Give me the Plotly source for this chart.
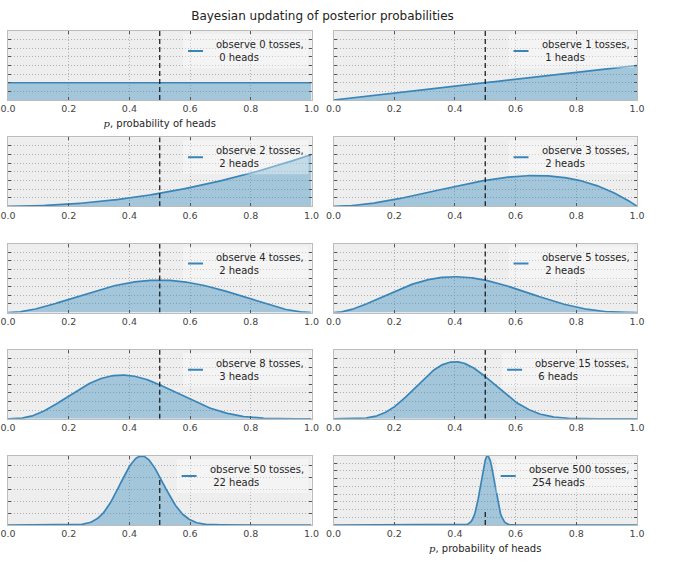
import math
import numpy as np
import plotly.graph_objects as go
from plotly.subplots import make_subplots

# observations behind each panel (read from the legends)
n_tosses = [0, 1, 2, 3, 4, 5, 8, 15, 50, 500]
n_heads = [0, 1, 2, 2, 2, 2, 3, 6, 22, 254]
x_ticks = [0.0, 0.2, 0.4, 0.6, 0.8, 1.0]
fair_p = 0.5          # dashed reference at a fair coin
fair_line_top = 4     # height the dashed line is drawn to
p_grid = np.linspace(0, 1, 301)

LINE = "#3a85b8"
FILL = "rgba(52,138,189,0.4)"
FONT = "DejaVu Sans"

W, H = 680, 567
ML, MR, MT, MB = 8, 43, 31, 42
plot_w, plot_h = W - ML - MR, H - MT - MB
h_gap, v_gap = 22, 37.25
panel_w = (plot_w - h_gap) / 2
panel_h = (plot_h - 4 * v_gap) / 5


def beta_pdf(x, a, b):
    log_b = math.lgamma(a) + math.lgamma(b) - math.lgamma(a + b)
    return x ** (a - 1) * (1 - x) ** (b - 1) * math.exp(-log_b)


def nice_step(top):
    for step in (0.5, 1, 2, 2.5, 5, 10):
        if top / step <= 9:
            return step
    return 10


fig = make_subplots(rows=5, cols=2,
                    horizontal_spacing=h_gap / plot_w,
                    vertical_spacing=v_gap / plot_h)

for k, (n, h) in enumerate(zip(n_tosses, n_heads)):
    row, col = k // 2 + 1, k % 2 + 1
    y = beta_pdf(p_grid, 1 + h, 1 + n - h)

    fig.add_trace(go.Scatter(x=p_grid, y=y, mode="lines", fill="tozeroy",
                             fillcolor=FILL, line=dict(color=LINE, width=1.7),
                             showlegend=False, hoverinfo="skip"),
                  row=row, col=col)
    fig.add_trace(go.Scatter(x=[fair_p, fair_p], y=[0, fair_line_top], mode="lines",
                             line=dict(color="#111", width=1.2, dash="5px,3px"),
                             showlegend=False, hoverinfo="skip"),
                  row=row, col=col)

    top = max(fair_line_top, float(y.max()))
    fig.update_yaxes(range=[0, top], tick0=0, dtick=nice_step(top), row=row, col=col)

    # matplotlib-style legend box: frame, short line sample, two-line label
    suffix = "" if k == 0 else str(k + 1)
    xd, yd = "x%s domain" % suffix, "y%s domain" % suffix
    text_left = 206 - 6.4 * (len(str(n)) - 1)
    fig.add_shape(type="rect", xref=xd, yref=yd,
                  x0=(text_left - 31) / panel_w, x1=1 - 3 / panel_w,
                  y0=1 - 37 / panel_h, y1=1 - 3 / panel_h,
                  fillcolor="rgba(255,255,255,0.35)", line_width=0, layer="above")
    fig.add_shape(type="line", xref=xd, yref=yd,
                  x0=(text_left - 26) / panel_w, x1=(text_left - 11) / panel_w,
                  y0=1 - 20 / panel_h, y1=1 - 20 / panel_h,
                  line=dict(color=LINE, width=2), layer="above")
    fig.add_annotation(xref=xd, yref=yd, x=text_left / panel_w, y=1 - 20 / panel_h,
                       xanchor="left", yanchor="middle", align="left", showarrow=False,
                       text="observe %d tosses,<br>\u00a0%d heads" % (n, h),
                       font=dict(family=FONT, size=10, color="#262626"))

axis_style = dict(showline=True, linecolor="#bcbcbc", linewidth=1, mirror="ticks",
                  ticks="inside", ticklen=3, tickcolor="#555",
                  showgrid=True, gridcolor="#b0b0b0", gridwidth=0.8, griddash="1px,2px",
                  zeroline=False, automargin=False)
fig.update_xaxes(range=[0, 1], tickvals=x_ticks, tickformat=".1f",
                 tickfont=dict(family=FONT, size=9.5, color="#444"), **axis_style)
fig.update_yaxes(showticklabels=False, **axis_style)

xlabel = "<span style='font-family:DejaVu Serif'><i>p</i></span>, probability of heads"
for row, col in [(1, 1), (5, 2)]:
    fig.update_xaxes(title=dict(text=xlabel, standoff=6,
                                font=dict(family=FONT, size=10, color="#262626")),
                     row=row, col=col)

fig.update_layout(
    width=W, height=H,
    margin=dict(l=ML, r=MR, t=MT, b=MB, autoexpand=False),
    paper_bgcolor="white", plot_bgcolor="#eeeeee",
    font=dict(family=FONT),
    title=dict(text="Bayesian updating of posterior probabilities",
               x=(ML + plot_w / 2) / W, xanchor="center",
               y=1 - 16 / H, yanchor="middle", yref="container",
               font=dict(family=FONT, size=12, color="#222")),
)

# drop the page's default body margin so the figure sits at the window corner
fig.write_html("out.html", config={"displayModeBar": False},
               post_script="document.body.style.margin='0px';")
